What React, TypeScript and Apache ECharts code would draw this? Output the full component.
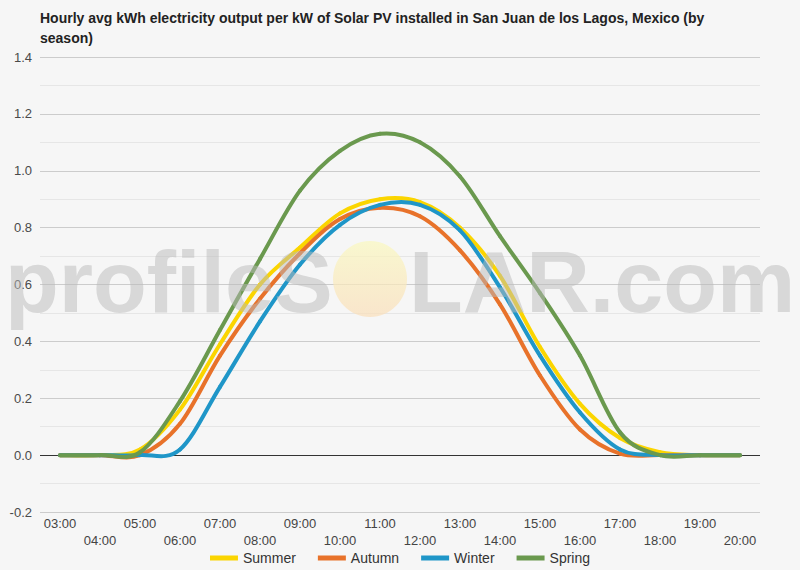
import React, { useEffect, useRef } from "react";
import * as echarts from "echarts";

const hours = ["03:00","04:00","05:00","06:00","07:00","08:00","09:00","10:00","11:00","12:00","13:00","14:00","15:00","16:00","17:00","18:00","19:00","20:00"];
const summer = [0, 0, 0.02, 0.16, 0.39, 0.60, 0.73, 0.85, 0.90, 0.89, 0.80, 0.63, 0.38, 0.18, 0.06, 0.01, 0, 0];
const autumn = [0, 0, 0, 0.11, 0.35, 0.55, 0.71, 0.83, 0.87, 0.84, 0.72, 0.53, 0.28, 0.09, 0.005, 0, 0, 0];
const winter = [0, 0, 0, 0.02, 0.24, 0.47, 0.67, 0.81, 0.88, 0.88, 0.79, 0.59, 0.35, 0.15, 0.02, 0, 0, 0];
const spring = [0, 0, 0.01, 0.19, 0.44, 0.69, 0.93, 1.07, 1.13, 1.10, 0.98, 0.77, 0.57, 0.35, 0.08, 0, 0, 0];
const seriesNames = ["Summer", "Autumn", "Winter", "Spring"];
const seriesColors = ["#fbd500", "#e8722a", "#1f96c8", "#6a994e"];
const titleText = "Hourly avg kWh electricity output per kW of Solar PV installed in San Juan de los Lagos, Mexico (by\nseason)";

const FONT = "'Liberation Sans', Arial, Helvetica, sans-serif";

function makeRenderItem(values: number[], color: string) {
  return (params: any, api: any) => {
    const i = params.dataIndex;
    const n = values.length;
    if (i >= n - 1) return null;
    const pt = (k: number) => {
      const kk = Math.max(0, Math.min(n - 1, k));
      return api.coord([kk, values[kk]]);
    };
    const p0 = pt(i - 1);
    const p1 = pt(i);
    const p2 = pt(i + 1);
    const p3 = pt(i + 2);
    return {
      type: "bezierCurve",
      shape: {
        x1: p1[0],
        y1: p1[1],
        x2: p2[0],
        y2: p2[1],
        cpx1: p1[0] + (p2[0] - p0[0]) / 6,
        cpy1: p1[1] + (p2[1] - p0[1]) / 6,
        cpx2: p2[0] - (p3[0] - p1[0]) / 6,
        cpy2: p2[1] - (p3[1] - p1[1]) / 6,
      },
      style: { stroke: color, lineWidth: 4, fill: "none", lineCap: "round" },
    };
  };
}

export default function App() {
  const ref = useRef<HTMLDivElement>(null);
  useEffect(() => {
    document.body.style.margin = "0";
    const chart = echarts.init(ref.current!, null, { renderer: "svg" });
    const data = [summer, autumn, winter, spring];
    const lineColors: string[] = [];
    for (let i = 0; i <= 16; i++) {
      if (i === 2) lineColors.push("#333333");
      else if (i % 2 === 0) lineColors.push("#cccccc");
      else lineColors.push("#e6e6e6");
    }
    chart.setOption({
      animation: false,
      backgroundColor: "#f6f6f6",
      textStyle: { fontFamily: FONT },
      title: {
        text: titleText,
        left: 35,
        top: 3,
        textStyle: { fontSize: 14, fontWeight: "bold", color: "#222", lineHeight: 20, fontFamily: FONT },
      },
      grid: { left: 40, right: 40, top: 57, bottom: 58 },
      legend: {
        data: seriesNames,
        bottom: 0,
        left: "center",
        icon: "rect",
        itemWidth: 28,
        itemHeight: 5,
        itemGap: 22,
        textStyle: { fontSize: 14, color: "#333", fontFamily: FONT },
      },
      xAxis: {
        type: "category",
        data: hours,
        boundaryGap: true,
        axisLine: { show: false },
        axisTick: { show: false },
        axisLabel: {
          interval: 0,
          color: "#444",
          fontSize: 13,
          lineHeight: 17,
          margin: 3,
          formatter: (v: string, i: number) => (i % 2 === 1 ? "\n" + v : v),
        },
      },
      yAxis: {
        type: "value",
        min: -0.2,
        max: 1.4,
        interval: 0.1,
        axisLine: { show: false },
        axisTick: { show: false },
        axisLabel: {
          color: "#4a4a4a",
          fontSize: 13,
          margin: 8,
          formatter: (v: number) => {
            const k = Math.round(v * 10);
            return k % 2 === 0 ? (k / 10).toFixed(1) : "";
          },
        },
        splitLine: { show: true, lineStyle: { color: lineColors, width: 1 } },
      },
      series: seriesNames.map((name, i) => ({
        name,
        type: "custom",
        data: data[i].map((v, k) => [k, v]),
        encode: { x: 0, y: 1 },
        renderItem: makeRenderItem(data[i], seriesColors[i]),
        itemStyle: { color: seriesColors[i] },
        clip: false,
      })),
      graphic: [
        {
          type: "text",
          silent: true,
          z: 100,
          x: 5,
          y: 281,
          style: {
            text: "profileS",
            font: "bold 88px " + FONT,
            fill: "rgba(185,185,185,0.5)",
            align: "left",
            verticalAlign: "middle",
          },
        },
        {
          type: "ellipse",
          silent: true,
          z: 100,
          shape: { cx: 370, cy: 279, rx: 37, ry: 38 },
          style: {
            fill: {
              type: "linear",
              x: 0,
              y: 0,
              x2: 0,
              y2: 1,
              colorStops: [
                { offset: 0, color: "rgba(250,248,190,0.7)" },
                { offset: 1, color: "rgba(250,222,185,0.7)" },
              ],
            },
          },
        },
        {
          type: "text",
          silent: true,
          z: 100,
          x: 409,
          y: 281,
          style: {
            text: "LAR.com",
            font: "bold 88px " + FONT,
            fill: "rgba(185,185,185,0.5)",
            align: "left",
            verticalAlign: "middle",
          },
        },
      ],
    });
    return () => chart.dispose();
  }, []);
  return <div ref={ref} style={{ position: "absolute", left: 0, top: 0, width: 800, height: 570 }} />;
}
